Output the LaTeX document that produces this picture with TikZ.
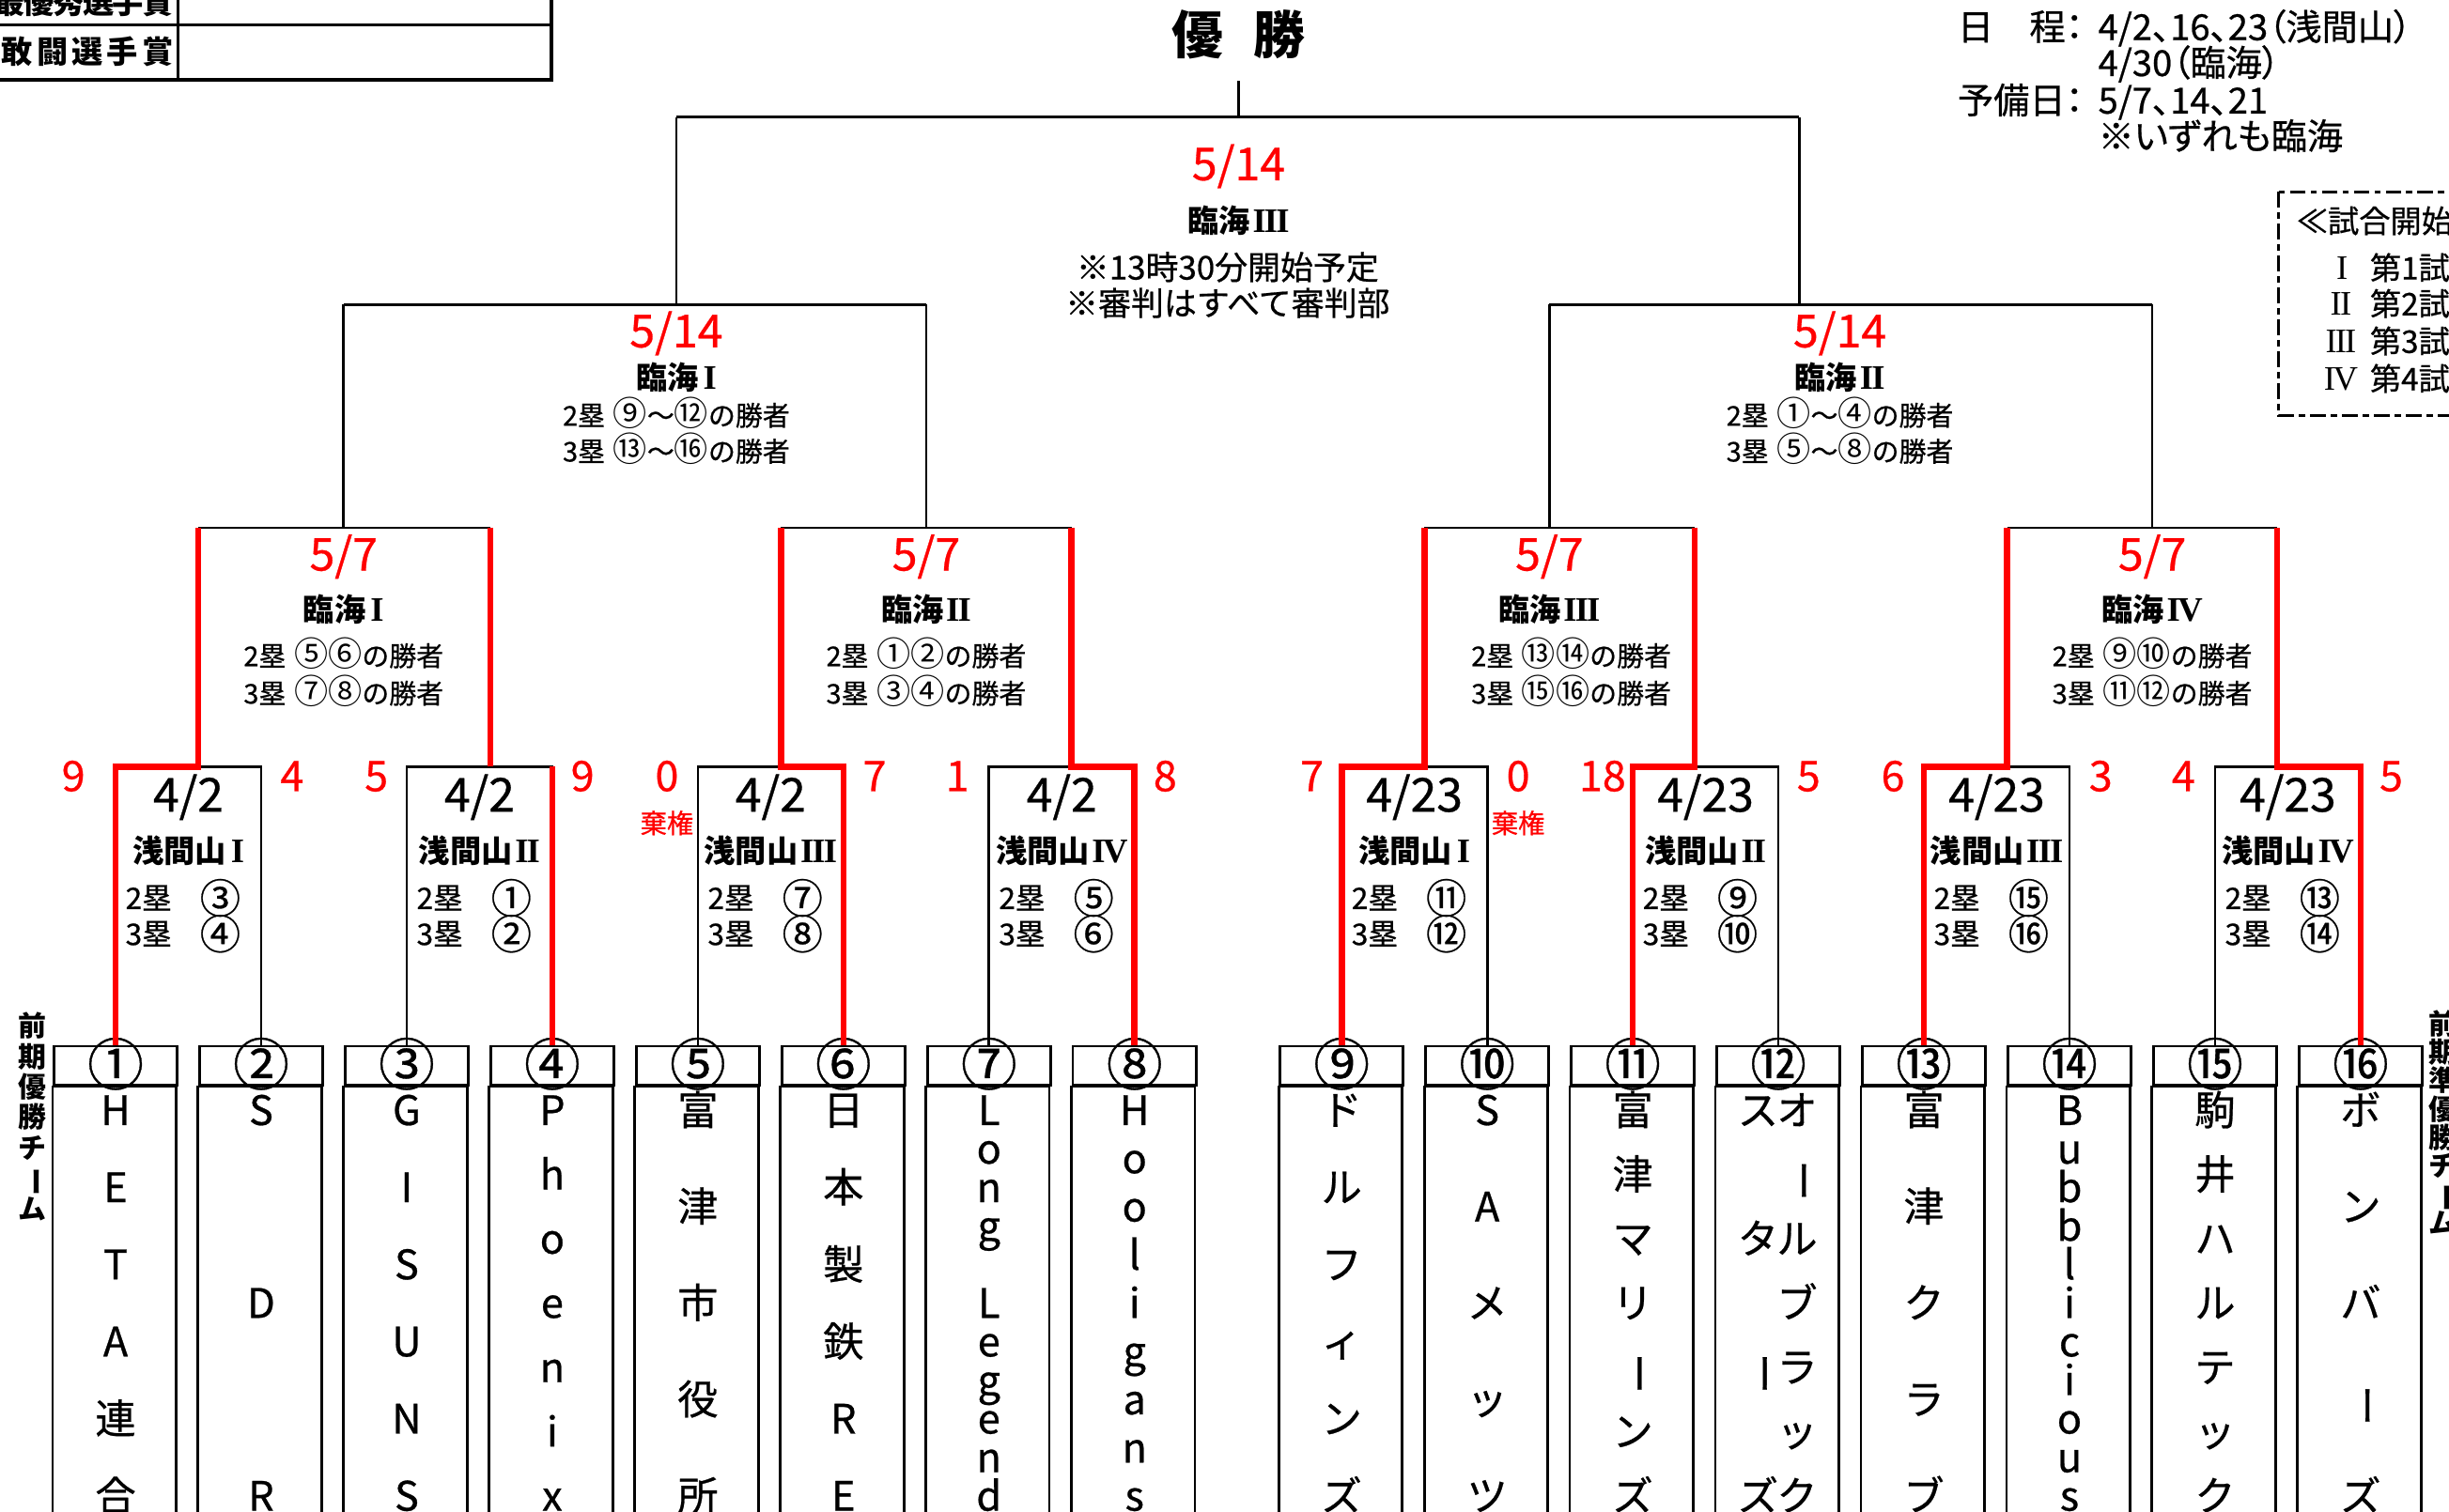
\documentclass[tikz,border=0pt]{standalone}
\usepackage{fontspec}
\setmainfont{Noto Sans CJK JP}[UprightFeatures={FakeBold=0.6}]
\newfontfamily\jpprop{Noto Sans CJK JP}[RawFeature=+palt, UprightFeatures={FakeBold=0.6}]
\newfontfamily\circf{Noto Sans CJK JP}[Scale=1.25]
\newfontfamily\romf{Liberation Serif}[Scale=1.1]
\usepackage{graphicx}
\usetikzlibrary{positioning}

\newcommand{\cho}{\rotatebox[origin=c]{-90}{ー}}
\newcommand{\rI}{\hspace{0.15em}{\romf I}\hspace{0.1em}}
\newcommand{\rII}{\hspace{0.08em}{\romf I\kern-0.05em I}}
\newcommand{\rIII}{\hspace{0.08em}{\romf I\kern-0.05em I\kern-0.05em I}}
\newcommand{\rIV}{\hspace{0.08em}{\romf I\kern-0.07em V}}

\tikzset{
  bline/.style={draw=black, line width=0.8pt},
  wline/.style={draw=red, line width=2pt, line join=miter},
  boxline/.style={draw=black, line width=0.85pt},
  tline/.style={draw=black, line width=1.1pt},
  leafnum/.style={rectangle, draw, line width=0.85pt, minimum width=39.5pt, minimum height=12.5pt, inner sep=0pt, text height=12.5pt, text depth=0pt, font=\fontsize{18}{18}\selectfont},
  teamch/.style={inner sep=0pt, text height=9.5pt, text depth=0pt, font=\fontsize{13}{13}\selectfont},
  reddate/.style={text=red, inner sep=0pt, text height=10.4pt, text depth=0pt, font=\fontsize{14.5}{15}\selectfont},
  blkdate/.style={inner sep=0pt, text height=10.8pt, text depth=0pt, font=\fontsize{15}{15}\selectfont},
  score/.style={text=red, inner sep=0pt, text height=9.7pt, text depth=0pt, font=\fontsize{13.5}{14}\selectfont},
  kiken/.style={text=red, inner sep=0pt, text height=6.5pt, text depth=0pt, font=\fontsize{8.5}{9}\selectfont},
  venue/.style={inner sep=0pt, text height=7.6pt, text depth=0pt, font=\bfseries\fontsize{10}{10}\selectfont},
  cond/.style={inner sep=0pt, text height=6.6pt, text depth=0pt, font=\fontsize{8.7}{10}\selectfont},
  slot/.style={inner sep=0pt, text height=7.2pt, text depth=0pt, font=\fontsize{9.5}{10}\selectfont},
  slotnum/.style={inner sep=0pt, text height=9.9pt, text depth=0pt, font=\fontsize{13}{13}\selectfont},
  note/.style={inner sep=0pt, text height=8pt, text depth=0pt, font=\fontsize{10.5}{11}\selectfont},
  sched/.style={inner sep=0pt, anchor=west, text height=8.7pt, text depth=0pt, font=\jpprop\fontsize{11.5}{12}\selectfont},
  tbl/.style={inner sep=0pt, text height=7.6pt, text depth=0pt, font=\bfseries\fontsize{10}{10}\selectfont},
  side/.style={inner sep=0pt, text height=6.8pt, text depth=0pt, font=\bfseries\fontsize{9}{9}\selectfont},
}

\begin{document}
\begin{tikzpicture}[x=0.5pt, y=-0.5pt]
    \useasboundingbox (0,0) rectangle (1568,968);
    \fill[white] (0,0) rectangle (1568,968);
    \clip (0,0) rectangle (1568,968);

    % prize table
    \draw[tline] (-10,-10) rectangle (353,51);
    \draw[tline] (-10,16) -- (353,16);
    \draw[tline] (114,-10) -- (114,51);
    \foreach \c [count=\k from 0] in {最,優,秀,選,手,賞}
        \node at ({6+19*\k},1) [tbl] (prz_a\k) {\c};
    \foreach \c [count=\k from 0] in {敢,闘,選,手,賞}
        \node at ({11+22.5*\k},33) [tbl] (prz_b\k) {\c};

    % title and schedule
    \node at (793,22) [inner sep=0pt, text height=12.5pt, text depth=0pt, font=\bfseries\fontsize{16.5}{17}\selectfont] (champ) {優\hspace{0.6em}勝};
    \coordinate (champ_stem) at (793,52);

    \node at (1253,17) [sched] (sch_lbl1) {日　程：};
    \node at (1343,17) [sched] (sch_val1) {4/2、16、23（浅間山）};
    \node at (1343,40) [sched] (sch_val2) {4/30（臨海）};
    \node at (1253,64) [sched] (sch_lbl2) {予備日：};
    \node at (1343,64) [sched] (sch_val3) {5/7、14、21};
    \node at (1343,87) [sched] (sch_val4) {※いずれも臨海};

    \draw[line width=0.8pt, dash pattern=on 5pt off 1.6pt on 2pt off 1.6pt] (1459,123) rectangle (1600,266);
    \node at (1470,141) [note, anchor=west, font=\fontsize{10}{10}\selectfont] (start_ttl) {≪試合開始};
    \foreach \r/\y/\t in {\rI/171/第1試, \rII/194/第2試, \rIII/218/第3試, \rIV/242/第4試}{
        \node at (1498,\y) [note, font=\fontsize{10}{10}\selectfont] (start_\y) {\r};
        \node at (1517,\y) [note, anchor=west, font=\fontsize{10}{10}\selectfont] (start_t\y) {\t};
    }

    % side labels
    \foreach \c [count=\k from 0] in {前,期,優,勝,チ,\cho,ム}
        \node at (21,{657+19.5*\k}) [side] (lbl_l\k) {\c};
    \foreach \c [count=\k from 0] in {前,期,準,優,勝,チ,\cho,ム}
        \node at (1564,{655.6+18.2*\k}) [side] (lbl_r\k) {\c};

    % leaves
    \foreach \i/\x/\num in {1/74/①,2/167.2/②,3/260.4/③,4/353.6/④,5/446.8/⑤,6/540/⑥,7/633.2/⑦,8/726.4/⑧,
                            9/859/⑨,10/952.2/⑩,11/1045.4/⑪,12/1138.6/⑫,13/1231.8/⑬,14/1325/⑭,15/1418.2/⑮,16/1511.4/⑯}{
        \node at (\x,682.5) [leafnum] (leaf_\i) {\num};
        \draw[boxline] (leaf_\i.south west) rectangle ++(79,320);
    }

    % team names, top to bottom
    \foreach \t/\x/\n/\chars in {1/74/6/{H,E,T,A,連,合}, 2/167.2/3/{S,D,R}, 3/260.4/6/{G,I,S,U,N,S},
            4/353.6/7/{P,h,o,e,n,i,x}, 5/446.8/5/{富,津,市,役,所}, 6/540/6/{日,本,製,鉄,R,E},
            7/633.2/11/{L,o,n,g,{},L,e,g,e,n,d}, 8/726.4/9/{H,o,o,l,i,g,a,n,s},
            9/859/6/{ド,ル,フ,ィ,ン,ズ}, 10/952.2/5/{S,A,メ,ッ,ツ}, 11/1045.4/7/{富,津,マ,リ,\cho,ン,ズ},
            12/1125.6/4/{ス,タ,\cho,ズ}, 17/1150.6/7/{オ,\cho,ル,ブ,ラ,ッ,ク},
            13/1231.8/5/{富,津,ク,ラ,ブ}, 14/1325/11/{B,u,b,b,l,i,c,i,o,u,s},
            15/1418.2/7/{駒,井,ハ,ル,テ,ッ,ク}, 16/1511.4/5/{ボ,ン,バ,\cho,ズ}}{
        \foreach \c [count=\k from 0] in \chars
            \node at (\x,{711+247*\k/(\n-1)}) [teamch] (tm\t_\k) {\c};
    }

    % levels and joints
    \coordinate (lvl_r1) at (0,491);
    \coordinate (q1_l) at (127,338);  \coordinate (q1_r) at (314,338);
    \coordinate (q2_l) at (500,338);  \coordinate (q2_r) at (686,338);
    \coordinate (q3_l) at (912,338);  \coordinate (q3_r) at (1085,338);
    \coordinate (q4_l) at (1285,338); \coordinate (q4_r) at (1458,338);
    \coordinate (s1_l) at (220,195);  \coordinate (s1_r) at (593,195);
    \coordinate (s2_l) at (992,195);  \coordinate (s2_r) at (1378,195);
    \coordinate (f_l) at (433,75);    \coordinate (f_r) at (1152,75);

    % first round brackets
    \foreach \a/\b in {1/2,3/4,5/6,7/8,9/10,11/12,13/14,15/16}
        \draw[bline] (leaf_\a.north) -- (leaf_\a.north |- lvl_r1) -- (leaf_\b.north |- lvl_r1) -- (leaf_\b.north);

    % upper brackets
    \draw[bline] (q1_l) -- (q1_r)  (q2_l) -- (q2_r)  (q3_l) -- (q3_r)  (q4_l) -- (q4_r);
    \draw[bline] (s1_l) -- (s1_l |- q1_l)  (s1_r) -- (s1_r |- q2_l)
                 (s2_l) -- (s2_l |- q3_l)  (s2_r) -- (s2_r |- q4_l);
    \draw[bline] (s1_l) -- (s1_r)  (s2_l) -- (s2_r);
    \draw[bline] (f_l |- s1_l) -- (f_l)  (f_r |- s2_l) -- (f_r);
    \draw[bline] (f_l) -- (f_r)  (champ_stem |- f_l) -- (champ_stem);

    % winners
    \draw[wline] (leaf_1.north) -- (leaf_1.north |- lvl_r1) -- (q1_l |- lvl_r1) -- (q1_l);
    \draw[wline] (leaf_4.north) -- (leaf_4.north |- lvl_r1);
    \draw[wline] (q1_r |- lvl_r1) -- (q1_r);
    \draw[wline] (leaf_6.north) -- (leaf_6.north |- lvl_r1) -- (q2_l |- lvl_r1) -- (q2_l);
    \draw[wline] (leaf_8.north) -- (leaf_8.north |- lvl_r1) -- (q2_r |- lvl_r1) -- (q2_r);
    \draw[wline] (leaf_9.north) -- (leaf_9.north |- lvl_r1) -- (q3_l |- lvl_r1) -- (q3_l);
    \draw[wline] (leaf_11.north) -- (leaf_11.north |- lvl_r1) -- (q3_r |- lvl_r1) -- (q3_r);
    \draw[wline] (leaf_13.north) -- (leaf_13.north |- lvl_r1) -- (q4_l |- lvl_r1) -- (q4_l);
    \draw[wline] (leaf_16.north) -- (leaf_16.north |- lvl_r1) -- (q4_r |- lvl_r1) -- (q4_r);

    % first round texts
    \foreach \m/\l/\d/\v/\p/\s in {1/74/{4/2}/浅間山\rI/③/④, 2/260.4/{4/2}/浅間山\rII/①/②,
            3/446.8/{4/2}/浅間山\rIII/⑦/⑧, 4/633.2/{4/2}/浅間山\rIV/⑤/⑥,
            5/859/{4/23}/浅間山\rI/⑪/⑫, 6/1045.4/{4/23}/浅間山\rII/⑨/⑩,
            7/1231.8/{4/23}/浅間山\rIII/⑮/⑯, 8/1418.2/{4/23}/浅間山\rIV/⑬/⑭}{
        \node at ({\l+46.6},509) [blkdate] (r\m_date) {\d};
        \node at ({\l+46.6},545) [venue] (r\m_venue) {\v};
        \node at ({\l+6},575) [slot, anchor=west] (r\m_b2) {2塁};
        \node at ({\l+67},575) [slotnum] (r\m_t2) {\p};
        \node at ({\l+6},598) [slot, anchor=west] (r\m_b3) {3塁};
        \node at ({\l+67},598) [slotnum] (r\m_t3) {\s};
    }

    % scores
    \node at (47,497)   [score] (r1_sa) {9};  \node at (187,497)  [score] (r1_sb) {4};
    \node at (241,497)  [score] (r2_sa) {5};  \node at (373,497)  [score] (r2_sb) {9};
    \node at (427,497)  [score] (r3_sa) {0};  \node at (560,497)  [score] (r3_sb) {7};
    \node at (613,497)  [score] (r4_sa) {1};  \node at (746,497)  [score] (r4_sb) {8};
    \node at (840,497)  [score] (r5_sa) {7};  \node at (972,497)  [score] (r5_sb) {0};
    \node at (1026,497) [score] (r6_sa) {18}; \node at (1158,497) [score] (r6_sb) {5};
    \node at (1212,497) [score] (r7_sa) {6};  \node at (1345,497) [score] (r7_sb) {3};
    \node at (1398,497) [score] (r8_sa) {4};  \node at (1531,497) [score] (r8_sb) {5};
    \node at (427,527)  [kiken] (r3_kk) {棄権};
    \node at (972,527)  [kiken] (r5_kk) {棄権};

    % quarter finals
    \foreach \q/\x/\y/\v/\pa/\pb in {1/220/220/臨海\rI/⑤⑥/⑦⑧, 2/593/593/臨海\rII/①②/③④,
            3/992/1006/臨海\rIII/⑬⑭/⑮⑯, 4/1378/1378/臨海\rIV/⑨⑩/⑪⑫}{
        \node at (\x,355) [reddate] (q\q_date) {5/7};
        \node at (\x,390) [venue] (q\q_venue) {\v};
        \node at (\y,420) [cond] (q\q_c2) {2塁\hspace{0.3em}{\circf\pa}の勝者};
        \node at (\y,444) [cond] (q\q_c3) {3塁\hspace{0.3em}{\circf\pb}の勝者};
    }

    % semi finals
    \node at (433,212)  [reddate] (s1_date) {5/14};
    \node at (433,242)  [venue] (s1_venue) {臨海\rI};
    \node at (433,266)  [cond] (s1_c2) {2塁\hspace{0.3em}{\circf ⑨}～{\circf ⑫}の勝者};
    \node at (433,289)  [cond] (s1_c3) {3塁\hspace{0.3em}{\circf ⑬}～{\circf ⑯}の勝者};
    \node at (1178,212) [reddate] (s2_date) {5/14};
    \node at (1178,242) [venue] (s2_venue) {臨海\rII};
    \node at (1178,266) [cond] (s2_c2) {2塁\hspace{0.3em}{\circf ①}～{\circf ④}の勝者};
    \node at (1178,289) [cond] (s2_c3) {3塁\hspace{0.3em}{\circf ⑤}～{\circf ⑧}の勝者};

    % final
    \node at (793,105) [reddate] (f_date) {5/14};
    \node at (793,141) [venue] (f_venue) {臨海\rIII};
    \node at (786,171) [note] (f_note1) {※13時30分開始予定};
    \node at (786,194) [note] (f_note2) {※審判はすべて審判部};
\end{tikzpicture}
\end{document}
